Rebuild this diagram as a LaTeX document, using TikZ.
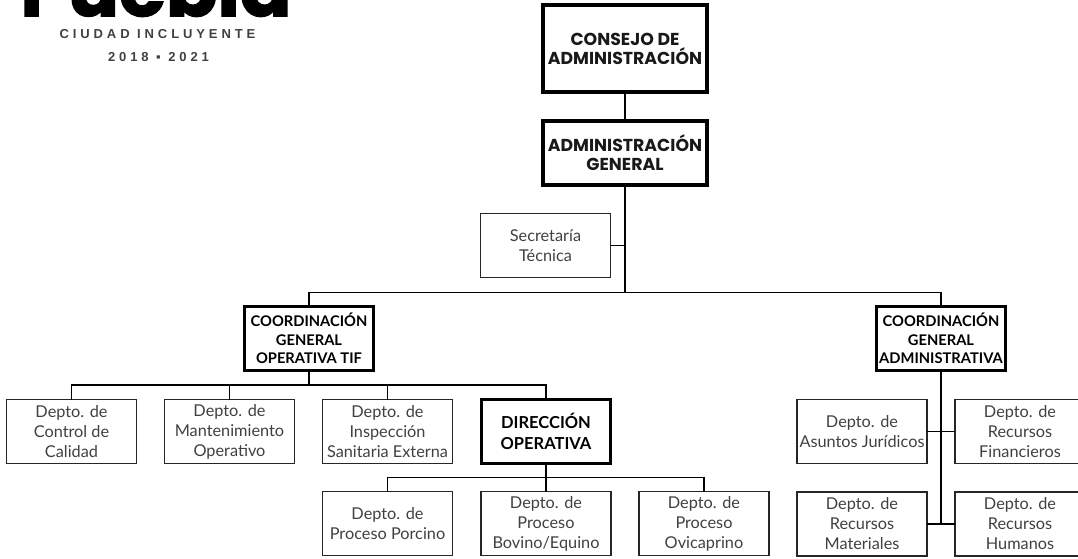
\documentclass[tikz,border=0pt]{standalone}
\usepackage{fontspec}
\setmainfont{Lato}
\newfontfamily\logofont[LetterSpace=30]{Liberation Sans}
\newfontfamily\bigfont[BoldFeatures={FakeBold=2}]{Poppins}
\newfontfamily\jefefont{Poppins}
\colorlet{mygray}{black!75}
\tikzset{
    dept/.style={draw=black!85,line width=1.5pt,outer sep=0pt,inner sep=0pt,minimum width=130pt,minimum height=64pt,align=center,text=mygray,font=\fontsize{16.3}{20}\selectfont},
    coord/.style={draw=black,line width=2.6pt,outer sep=0pt,inner sep=0pt,minimum width=129pt,minimum height=64pt,align=center,text=black,font=\bfseries\fontsize{14.7}{18.5}\selectfont},
    jefe/.style={draw=black,line width=4pt,outer sep=0pt,inner sep=0pt,minimum width=164pt,align=center,text=black!90,font=\jefefont\bfseries\fontsize{17.3}{19}\selectfont},
    logotxt/.style={inner sep=0pt,text=black!75,font=\logofont\bfseries\fontsize{13}{14}\selectfont},
    linea/.style={black,line width=1.6pt},
    lineagr/.style={black,line width=2.2pt},
}
\begin{document}
\begin{tikzpicture}[x=1pt,y=-1pt]
        \useasboundingbox (0,0) rectangle (1078,558);

        % LOGO
        \node[inner sep=0pt,anchor=base,font=\bigfont\bfseries\fontsize{76}{76}\selectfont] (puebla) at (156,16) {Puebla};
        \node[logotxt] (ciudad) at (157.5,34) {CIUDAD INCLUYENTE};
        \node[logotxt] (periodo) at (158.5,57) {2018 ▪ 2021};

        % COORDINATES
        \coordinate (BT) at (625,292.5); % main bus
        \coordinate (BO) at (309,385);
        \coordinate (BD) at (546,477.5);
        \coordinate (BA) at (941,524);

        % TOP
        \node[jefe,minimum height=87pt] (consejo) at (625,48.5) {CONSEJO DE\\ADMINISTRACIÓN};
        \node[jefe,minimum height=64pt] (admin) at (625,153) {ADMINISTRACIÓN\\GENERAL};
        \node[dept] (secretaria) at (545.5,245.5) {Secretaría\\Técnica};

        % COORDINACIONES
        \node[coord] (cgo) at (309,338.5) {COORDINACIÓN\\GENERAL\\OPERATIVA TIF};
        \node[coord] (cga) at (941,338.5) {COORDINACIÓN\\GENERAL\\ADMINISTRATIVA};

        % DEPTOS
        \node[dept] (calidad) at (71.5,431.5) {Depto. de\\Control de\\Calidad};
        \node[dept] (mant) at (229.5,431.5) {Depto. de\\Mantenimiento\\Operativo};
        \node[dept] (insp) at (387.5,431.5) {Depto. de\\Inspección\\Sanitaria Externa};
        \node[coord,font=\bfseries\fontsize{16.5}{21}\selectfont] (direccion) at (546,431.5) {DIRECCIÓN\\OPERATIVA};
        \node[dept] (porcino) at (387.5,523.5) {Depto. de\\Proceso Porcino};
        \node[dept] (bovino) at (546,523.5) {Depto. de\\Proceso\\Bovino/Equino};
        \node[dept] (ovicaprino) at (704,523.5) {Depto. de\\Proceso\\Ovicaprino};
        \node[dept] (juridicos) at (862,431.5) {Depto. de\\Asuntos Jurídicos};
        \node[dept] (financieros) at (1020,431.5) {Depto. de\\Recursos\\Financieros};
        \node[dept] (materiales) at (862,524) {Depto. de\\Recursos\\Materiales};
        \node[dept] (humanos) at (1020,524) {Depto. de\\Recursos\\Humanos};

        % LINES
        \draw[linea] (consejo) -- (admin);
        \draw[lineagr] (admin) -- (BT);
        \draw[linea] (secretaria.east) -- (secretaria.east -| BT);
        \draw[linea] (cgo.north) |- (BT) -| (cga.north);

        \draw[lineagr] (cgo) -- (BO);
        \draw[linea] (calidad.north) |- (BO);
        \draw[linea] (mant.north) |- (BO);
        \draw[linea] (insp.north) |- (BO);
        \draw[linea] (direccion.north) |- (BO);

        \draw[lineagr] (direccion) -- (bovino);
        \draw[linea] (porcino.north) |- (BD);
        \draw[linea] (ovicaprino.north) |- (BD);

        \draw[lineagr] (cga) -- (BA);
        \draw[linea] (juridicos.east) -- (financieros.west);
        \draw[linea] (materiales.east) -- (humanos.west);
\end{tikzpicture}
\end{document}
